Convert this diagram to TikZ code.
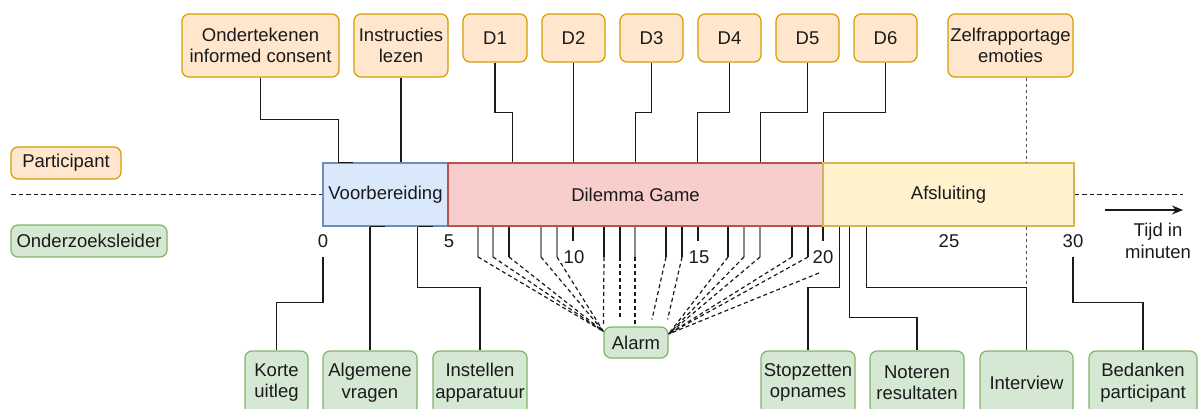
\documentclass[tikz,border=0pt]{standalone}
\usepackage{fontspec}
\setmainfont{Liberation Sans}
\usetikzlibrary{calc,arrows.meta}
\definecolor{ofill}{HTML}{FFE6CC}
\definecolor{odraw}{HTML}{D79B00}
\definecolor{gfill}{HTML}{D5E8D4}
\definecolor{gdraw}{HTML}{82B366}
\definecolor{bfill}{HTML}{DAE8FC}
\definecolor{bdraw}{HTML}{6C8EBF}
\definecolor{rfill}{HTML}{F8CECC}
\definecolor{rdraw}{HTML}{B85450}
\definecolor{yfill}{HTML}{FFF2CC}
\definecolor{ydraw}{HTML}{D6B656}
\definecolor{txt}{HTML}{1A1A1A}
\definecolor{grayline}{HTML}{8A8A8A}
\begin{document}
\begin{tikzpicture}[x=1pt,y=-1pt,
  every node/.style={font=\fontsize{18.5}{21.5}\selectfont, text=txt, align=center, inner sep=0pt},
  box/.style={rounded corners=7pt, line width=1.2pt, minimum width=#1},
  obox/.style={box=#1, fill=ofill, draw=odraw},
  gbox/.style={box=#1, fill=gfill, draw=gdraw},
  phase/.style={line width=1.2pt, minimum height=63pt, minimum width=#1},
  conn/.style={line width=1.2pt, draw=txt},
  tickb/.style={line width=1.2pt, draw=txt},
  tickg/.style={line width=1.8pt, draw=grayline},
  alarmedge/.style={line width=1.2pt, draw=txt, dash pattern=on 4pt off 3pt},
  timeline/.style={line width=1.2pt, draw=txt, dash pattern=on 4.5pt off 3pt},
  dotline/.style={line width=1.2pt, draw=txt!75, dash pattern=on 3pt off 3pt}
]
\useasboundingbox (0,0) rectangle (1198,409);
\clip (0,0) rectangle (1198,409);

% top boxes
\node[obox=157pt, minimum height=63pt] (oic) at (260.5,45.5) {Ondertekenen\\informed consent};
\node[obox=94pt, minimum height=63pt] (instr) at (401,45.5) {Instructies\\lezen};
\node[obox=64pt, minimum height=48pt] (d1) at (495,38) {D1};
\node[obox=63pt, minimum height=48pt] (d2) at (573.5,38) {D2};
\node[obox=63pt, minimum height=48pt] (d3) at (651.5,38) {D3};
\node[obox=63pt, minimum height=48pt] (d4) at (729.5,38) {D4};
\node[obox=63pt, minimum height=48pt] (d5) at (807.5,38) {D5};
\node[obox=63pt, minimum height=48pt] (d6) at (885.5,38) {D6};
\node[obox=125pt, minimum height=63pt] (zelf) at (1010.5,45.5) {Zelfrapportage\\emoties};

% lane labels
\node[obox=110pt, minimum height=32pt] (part) at (66,163) {Participant};
\node[gbox=156pt, minimum height=32pt] (onder) at (89,241) {Onderzoeksleider};

% phases
\node[phase=125pt, fill=bfill, draw=bdraw] (voor) at (385.5,194.5) {Voorbereiding};
\node[phase=375pt, fill=rfill, draw=rdraw] (dil) at (635.5,194.5) {Dilemma Game};
\node[phase=251pt, fill=yfill, draw=ydraw] (afs) at (948.5,194.5) {Afsluiting};

% bottom boxes
\node[gbox=63pt, minimum height=63pt] (korte) at (276.5,382.5) {Korte\\uitleg};
\node[gbox=94pt, minimum height=63pt] (alg) at (370,382.5) {Algemene\\vragen};
\node[gbox=94pt, minimum height=63pt] (inst) at (480,382.5) {Instellen\\apparatuur};
\node[gbox=64pt, minimum height=31pt] (alarm) at (636,342.5) {Alarm};
\node[gbox=94pt, minimum height=63pt] (stop) at (808,382.5) {Stopzetten\\opnames};
\node[gbox=94pt, minimum height=63pt] (noteren) at (917,382.5) {Noteren\\resultaten};
\node[gbox=93pt, minimum height=63pt] (interview) at (1026.5,382.5) {Interview};
\node[gbox=108pt, minimum height=63pt] (bed) at (1143,382.5) {Bedanken\\participant};

% tick labels
\node (l0) at (323,241) {0};
\node (l5) at (449,241) {5};
\node (l10) at (574,257) {10};
\node (l15) at (699,257) {15};
\node (l20) at (823,257) {20};
\node (l25) at (949,241) {25};
\node (l30) at (1073,241) {30};
\node (tijd) at (1158,241) {Tijd in\\minuten};

\coordinate (t0) at (323,257);
\coordinate (t30) at (1073,257);
\coordinate (lstart) at (11,194.5);
\coordinate (lend) at (1183,194.5);
\coordinate (arrS) at (1105,210);
\coordinate (arrE) at (1183,210);

% timeline
\draw[timeline] (lstart) -- (voor.west);
\draw[timeline] (afs.east) -- (lend);
\draw[line width=1.2pt, draw=txt, -{Stealth[length=11pt,width=9pt]}] (arrS) -- (arrE);

% top connectors
\draw[conn] (oic.south) |- ($(voor.north west)+(16,-43)$) -- ($(voor.north west)+(16,0)$) -- ($(voor.north west)+(31,0)$);
\draw[conn] (instr.south) -- (instr.south |- voor.north);
\draw[conn] (d1.south) |- ($(dil.north west)+(65,-50)$) -- ($(dil.north west)+(65,0)$);
\draw[conn] (d2.south) -- (d2.south |- dil.north);
\draw[conn] (d3.south) |- ($(dil.north west)+(188,-50)$) -- ($(dil.north west)+(188,0)$);
\draw[conn] (d4.south) |- ($(dil.north west)+(250,-50)$) -- ($(dil.north west)+(250,0)$);
\draw[conn] (d5.south) |- ($(dil.north west)+(313,-50)$) -- ($(dil.north west)+(313,0)$);
\draw[conn] (d6.south) |- ($(dil.north east)+(0,-50)$) -- (dil.north east);
\draw[dotline] (interview.north |- zelf.south) -- (interview.north |- afs.north);
\draw[dotline] (interview.north |- afs.south) -- ($(interview.north)+(0,-63)$);

% bottom connectors
\draw[conn] (t0) |- ($(korte.north)+(0,-48)$) -- (korte.north);
\draw[conn] (alg.north |- voor.south) -- (alg.north);
\draw[conn] (alg.north |- voor.south) -- ++(15,0);
\draw[conn] ($(voor.south east)+(-31,0)$) -- ++(15,0);
\draw[conn] ($(voor.south east)+(-31,0)$) |- ($(inst.north)+(0,-63)$) -- (inst.north);
\draw[conn] ($(afs.south west)+(17,0)$) |- ($(stop.north)+(0,-63)$) -- (stop.north);
\draw[conn] ($(afs.south west)+(27,0)$) |- ($(noteren.north)+(0,-33)$) -- (noteren.north);
\draw[conn] ($(afs.south west)+(44,0)$) |- ($(interview.north)+(0,-63)$) -- (interview.north);
\draw[conn] (t30) |- ($(bed.north)+(0,-48)$) -- (bed.north);

% short minute ticks
\foreach \x in {573,698,823} \draw[tickb] (dil.south -| \x,0) -- (\x,241);

% alarm ticks
\foreach \x in {478,493,541,557,635,744,760} \draw[tickg] (dil.south -| \x,0) -- (\x,257);
\foreach \x in {509,604,620,666,682,728,792,808} \draw[tickb] (dil.south -| \x,0) -- (\x,257);

% alarm dashed edges
\foreach \x in {478,493,509,541,557} \draw[alarmedge] (\x,257) -- ($(alarm.north west)+(0,5)$);
\draw[alarmedge] (604,257) -- (alarm.north west);
\draw[alarmedge] (620,257) -- ($(alarm.north)+(-16,-9)$);
\draw[alarmedge] (635,257) -- ($(alarm.north)+(-1,0)$);
\draw[alarmedge] (666,257) -- ($(alarm.north)+(16,-7)$);
\draw[alarmedge] (682,257) -- ($(alarm.north east)+(-1,-7)$);
\foreach \x in {728,744,760,792,808} \draw[alarmedge] (\x,257) -- ($(alarm.east)+(0,-8.5)$);
\draw[alarmedge] (819,273) -- ($(alarm.east)+(0,-8.5)$);
\end{tikzpicture}
\end{document}
